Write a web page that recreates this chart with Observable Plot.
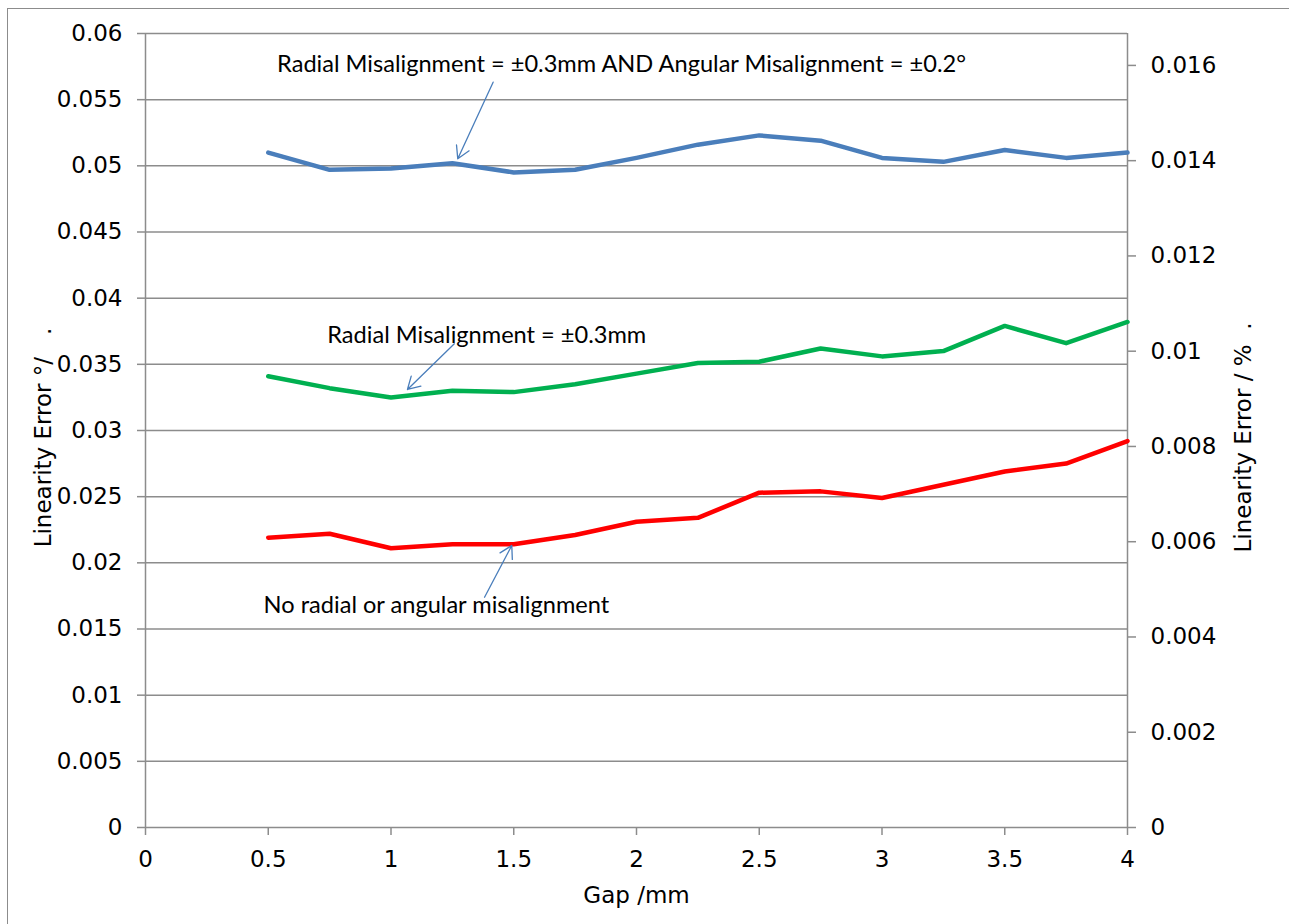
<!DOCTYPE html>
<html><head><meta charset="utf-8">
<script src="https://cdn.jsdelivr.net/npm/d3@7"></script>
<script src="https://cdn.jsdelivr.net/npm/@observablehq/plot@0.6"></script>
<style>
html,body{margin:0;padding:0;background:#fff;}
#wrap{position:relative;width:1289px;height:924px;overflow:hidden;background:#fff;}
#chart{position:absolute;left:0;top:0;}
#border{position:absolute;left:7px;top:8px;width:1400px;height:1000px;border:1.5px solid #8c8c8c;box-sizing:border-box;pointer-events:none;}
</style></head><body>
<div id="wrap"><div id="chart"></div><div id="border"></div></div>
<script>
// ---- data ----
const gaps = [0.5, 0.75, 1, 1.25, 1.5, 1.75, 2, 2.25, 2.5, 2.75, 3, 3.25, 3.5, 3.75, 4];
const bothMisalign = [0.0510, 0.0497, 0.0498, 0.0502, 0.0495, 0.0497, 0.0506, 0.0516, 0.0523, 0.0519, 0.0506, 0.0503, 0.0512, 0.0506, 0.0510];
const radialMisalign = [0.0341, 0.0332, 0.0325, 0.0330, 0.0329, 0.0335, 0.0343, 0.0351, 0.0352, 0.0362, 0.0356, 0.0360, 0.0379, 0.0366, 0.0382];
const noMisalign = [0.0219, 0.0222, 0.0211, 0.0214, 0.0214, 0.0221, 0.0231, 0.0234, 0.0253, 0.0254, 0.0249, 0.0259, 0.0269, 0.0275, 0.0292];

const xTicks = [0, 0.5, 1, 1.5, 2, 2.5, 3, 3.5, 4];
const leftTicks = [0, 0.005, 0.01, 0.015, 0.02, 0.025, 0.03, 0.035, 0.04, 0.045, 0.05, 0.055, 0.06];
const rightTicks = [0, 0.002, 0.004, 0.006, 0.008, 0.01, 0.012, 0.014, 0.016];
const leftMax = 0.06;
const rightMax = 0.01667;

const xTitle = ["Gap /mm"];
const leftTitle = ["Linearity Error °/\u00a0\u00a0\u00a0."];
const rightTitle = ["Linearity Error / %\u00a0\u00a0."];

const annotationLabels = ["Radial Misalignment = ±0.3mm AND Angular Misalignment = ±0.2°", "Radial Misalignment = ±0.3mm", "No radial or angular misalignment"];
const annotationX = [1.939, 1.390, 1.185];
const annotationY = [0.05766, 0.03722, 0.0168];
const arrowX1 = [1.416, 1.258, 1.381];
const arrowY1 = [0.05632, 0.03655, 0.0174];
const arrowX2 = [1.272, 1.067, 1.492];
const arrowY2 = [0.05053, 0.0331, 0.02131];

// ---- build ----
const k = leftMax / rightMax;
const rightTickPos = rightTicks.map(v => v * k);
const fmt = d3.format(".3~f");
const gray = "#8c8c8c";
const mk = vals => gaps.map((g, i) => ({gap: g, value: vals[i]}));
const annotations = annotationLabels.map((t, i) => ({text: t, x: annotationX[i], y: annotationY[i]}));
const arrows = arrowX1.map((x1, i) => ({x1, y1: arrowY1[i], x2: arrowX2[i], y2: arrowY2[i]}));

const chart = Plot.plot({
  width: 1289, height: 924,
  marginLeft: 145, marginRight: 162, marginTop: 33, marginBottom: 97,
  style: {fontFamily: "'DejaVu Sans', Verdana, sans-serif", fontSize: "23px", color: "black", background: "white"},
  x: {domain: [0, 4]},
  y: {domain: [0, leftMax]},
  marks: [
    Plot.gridY(leftTicks, {stroke: gray, strokeOpacity: 1, strokeWidth: 1.5}),
    Plot.ruleX([xTicks[0], xTicks[xTicks.length - 1]], {stroke: gray, strokeWidth: 1.5}),
    Plot.axisY(leftTicks, {anchor: "left", tickSize: 8, tickPadding: 15, tickFormat: fmt, stroke: gray, strokeWidth: 1.5, fill: "black", label: null}),
    Plot.axisY(rightTickPos, {anchor: "right", tickSize: 8, tickPadding: 15, tickFormat: d => fmt(d / k), stroke: gray, strokeWidth: 1.5, fill: "black", label: null}),
    Plot.axisX(xTicks, {anchor: "bottom", tickSize: 8, tickPadding: 15, tickFormat: d => String(d), stroke: gray, strokeWidth: 1.5, fill: "black", label: null}),
    Plot.line(mk(bothMisalign), {x: "gap", y: "value", stroke: "#4a7ebb", strokeWidth: 4.5}),
    Plot.line(mk(radialMisalign), {x: "gap", y: "value", stroke: "#00b050", strokeWidth: 4.5}),
    Plot.line(mk(noMisalign), {x: "gap", y: "value", stroke: "#ff0000", strokeWidth: 4.5}),
    Plot.arrow(arrows, {x1: "x1", y1: "y1", x2: "x2", y2: "y2", stroke: "#4a7ebb", strokeWidth: 1.3, headLength: 16, headAngle: 60}),
    Plot.text(annotations, {x: "x", y: "y", text: "text", fontFamily: "Lato, 'Open Sans', sans-serif", fontSize: 23.6, fill: "black", lineAnchor: "middle", textAnchor: "middle"}),
    Plot.text(xTitle, {text: d => d, frameAnchor: "bottom", dy: 68, lineAnchor: "middle", fill: "black"}),
    Plot.text(leftTitle, {text: d => d, frameAnchor: "left", dx: -102, dy: 7, rotate: -90, lineAnchor: "middle", textAnchor: "middle", fill: "black"}),
    Plot.text(rightTitle, {text: d => d, frameAnchor: "right", dx: 116, dy: 7, rotate: -90, lineAnchor: "middle", textAnchor: "middle", fill: "black"})
  ]
});
document.getElementById("chart").appendChild(chart);
</script>
</body></html>
